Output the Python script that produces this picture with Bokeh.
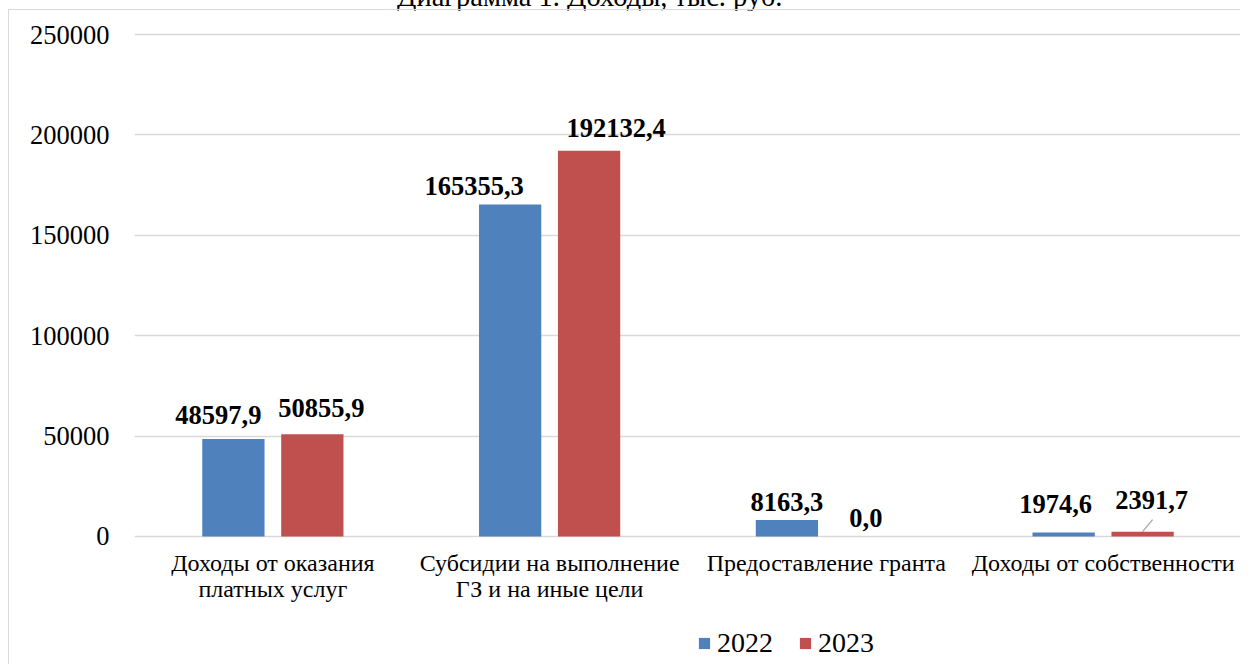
from bokeh.plotting import figure
from bokeh.models import (ColumnDataSource, FactorRange, Range1d, FixedTicker,
                          NumeralTickFormatter, Legend, LegendItem, Div)
from bokeh.transform import dodge
from bokeh.layouts import column
from bokeh.core.properties import value
from bokeh.embed import file_html
from bokeh.resources import INLINE

# ---------------- data ----------------
title_text = "Диаграмма 1. Доходы, тыс. руб."
categories = ["Доходы от оказания\nплатных услуг",
              "Субсидии на выполнение\nГЗ и на иные цели",
              "Предоставление гранта",
              "Доходы от собственности"]
series_names = ["2022", "2023"]
values_2022 = [48597.9, 165355.3, 8163.3, 1974.6]
values_2023 = [50855.9, 192132.4, 0.0, 2391.7]
y_ticks = [0, 50000, 100000, 150000, 200000, 250000]

# ---------------- style / placement ----------------
FONT = "Liberation Serif"
BLUE = "#4f81bd"
RED = "#c0504d"
GRID = "#d9d9d9"
BORDER = "1.5px solid #d9d9d9"
OFF = 0.1426     # dodge offset of each series (category units)
BAR_W = 0.225
# label pixel offsets (dx right, dy up)
dx_2022 = [-15, -36, 0, -8]
dy_2022 = [24, 18, 18, 29]
dx_2023 = [9, 27, 0, 9]
dy_2023 = [26, 23, 18, 32]

def fmt(v):
    return f"{v:.1f}".replace(".", ",")

src = ColumnDataSource(dict(cat=categories, v2022=values_2022, v2023=values_2023))
lab22 = ColumnDataSource(dict(cat=categories, v=values_2022, t=[fmt(v) for v in values_2022],
                              dx=dx_2022, dy=[-d for d in dy_2022]))
lab23 = ColumnDataSource(dict(cat=categories, v=values_2023, t=[fmt(v) for v in values_2023],
                              dx=dx_2023, dy=[-d for d in dy_2023]))

p = figure(x_range=FactorRange(*categories), y_range=Range1d(-2000, 252000),
           width=1232, height=600, output_backend="svg", toolbar_location=None,
           min_border_left=125, min_border_right=0, min_border_top=20, min_border_bottom=70,
           margin=(0, 0, 0, 8))
p.styles = {"border-top": BORDER, "border-left": BORDER}
p.outline_line_color = None
p.background_fill_color = "white"
p.border_fill_color = "white"
p.x_range.range_padding = 0
p.x_range.factor_padding = 0

r1 = p.vbar(x=dodge("cat", -OFF, range=p.x_range), top="v2022", width=BAR_W,
            source=src, fill_color=BLUE, line_color=None)
r2 = p.vbar(x=dodge("cat", OFF, range=p.x_range), top="v2023", width=BAR_W,
            source=src, fill_color=RED, line_color=None)

for s, off in ((lab22, -OFF), (lab23, OFF)):
    p.text(x=dodge("cat", off, range=p.x_range), y="v", text="t", source=s,
           x_offset="dx", y_offset="dy", text_align="center", text_baseline="alphabetic",
           text_font=value(FONT), text_font_style="bold", text_font_size="26.5px",
           text_color="black")

# leader line for the moved 2391,7 label
cat_px = 1107 / 4.0
y_per_px = 254000 / 510.0
lead_i = 3
lead = ColumnDataSource(dict(cat=[categories[lead_i]], y0=[values_2023[lead_i]],
                             y1=[values_2023[lead_i] + 12 * y_per_px]))
p.segment(x0=dodge("cat", OFF, range=p.x_range), y0="y0",
          x1=dodge("cat", OFF + 10 / cat_px, range=p.x_range), y1="y1",
          source=lead, line_color="#a6a6a6", line_width=1.3)

# axes
p.yaxis.ticker = FixedTicker(ticks=y_ticks)
p.yaxis.formatter = NumeralTickFormatter(format="0")
p.yaxis.axis_line_color = None
p.yaxis.major_tick_line_color = None
p.yaxis.minor_tick_line_color = None
p.yaxis.major_tick_out = 0
p.yaxis.major_tick_in = 0
p.yaxis.major_label_standoff = 25
p.yaxis.major_label_text_font = FONT
p.yaxis.major_label_text_font_size = "26.5px"
p.yaxis.major_label_text_color = "black"

p.xaxis.axis_line_color = None
p.xaxis.major_tick_line_color = None
p.xaxis.major_tick_out = 0
p.xaxis.major_tick_in = 0
p.xaxis.major_label_standoff = 9
p.xaxis.major_label_text_font = FONT
p.xaxis.major_label_text_font_size = "24px"
p.xaxis.major_label_text_line_height = 1.0
p.xaxis.major_label_text_color = "black"

p.xgrid.grid_line_color = None
p.ygrid.ticker = FixedTicker(ticks=y_ticks)
p.ygrid.grid_line_color = GRID
p.ygrid.grid_line_width = 1.3

# ---------------- legend strip below the chart ----------------
pl = figure(width=1232, height=55, output_backend="svg", toolbar_location=None,
            x_range=Range1d(0, 1), y_range=Range1d(0, 1),
            min_border=0, margin=(0, 0, 0, 8))
pl.styles = {"border-left": BORDER}
pl.axis.visible = False
pl.grid.visible = False
pl.outline_line_color = None
pl.background_fill_color = "white"
pl.border_fill_color = "white"
# key glyphs only (kept outside the visible range of this strip)
k1 = pl.vbar(x=[5], top=[5], bottom=[4], width=0.1, fill_color=BLUE, line_color=None)
k2 = pl.vbar(x=[5], top=[5], bottom=[4], width=0.1, fill_color=RED, line_color=None)
legend = Legend(items=[LegendItem(label=series_names[0], renderers=[k1]),
                       LegendItem(label=series_names[1], renderers=[k2])],
                orientation="horizontal", location=(563, 5),
                glyph_width=14, glyph_height=14, label_standoff=6, spacing=25,
                padding=0, margin=0, border_line_color=None, background_fill_alpha=0,
                label_text_font=FONT, label_text_font_size="28px", label_text_color="black")
pl.add_layout(legend)

title = Div(text=title_text, width=440, height=27, margin=(-18, 0, 0, 397),
            styles={"font-family": FONT, "font-size": "28.5px", "line-height": "30px",
                    "white-space": "nowrap", "color": "black"})

layout = column(title, p, pl, spacing=0)
open("out.html", "w").write(file_html(layout, INLINE))
